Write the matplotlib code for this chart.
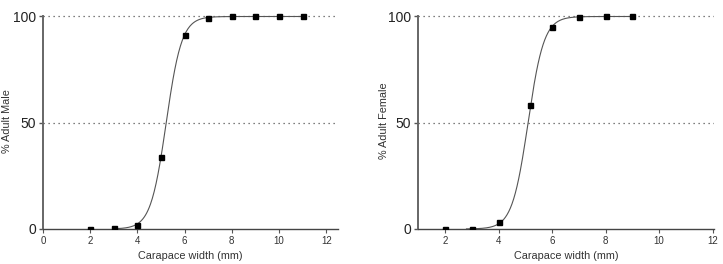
import numpy as np
import matplotlib.pyplot as plt

plt.rcParams['font.family'] = ['Liberation Sans', 'DejaVu Sans']

# observed points
male_width = [2, 3, 4, 5, 6, 7, 8, 9, 10, 11]
male_pct = [0, 0.3, 2, 34, 91.5, 99.5, 100, 100, 100, 100]
female_width = [2, 3, 4, 5.18, 6, 7, 8, 9]
female_pct = [0, 0.2, 3.2, 58.5, 95, 99.6, 100, 100]

# fitted logistic curves (midpoint, slope, x range)
male_fit = (5.22, 3.03, 3.1, 11.0)
female_fit = (5.10, 3.35, 2.8, 9.0)

x_ticks_male = [0, 2, 4, 6, 8, 10, 12]
x_ticks_female = [2, 4, 6, 8, 10, 12]

fig = plt.figure(figsize=(7.23, 2.64), dpi=100)
ax1 = fig.add_axes([0.0595, 0.1326, 0.408, 0.821])
ax2 = fig.add_axes([0.5786, 0.1326, 0.409, 0.821])


def draw(ax, xs, ys, fit, xlim, xticks, ylabel, label_x):
    m, k, x0, x1 = fit
    xx = np.linspace(x0, x1, 300)
    yy = 100 / (1 + np.exp(-k * (xx - m)))
    for lvl in (50, 100):
        ax.axhline(lvl, color='#555555', lw=0.9, ls=(0, (1, 3)), zorder=1)
    ax.plot(xx, yy, color='#555555', lw=0.8, zorder=2)
    ax.plot(xs, ys, 's', color='black', ms=3.6, zorder=3)
    ax.set_xlim(*xlim)
    ax.set_ylim(0, 102)
    ax.set_xticks(xticks)
    ax.set_yticks([0, 50, 100])
    ax.spines['top'].set_visible(False)
    ax.spines['right'].set_visible(False)
    ax.spines['left'].set_bounds(0, 100)
    ax.spines['left'].set_color('#666666')
    ax.spines['left'].set_linewidth(1.4)
    ax.spines['bottom'].set_color('#444444')
    ax.spines['bottom'].set_linewidth(1.0)
    ax.tick_params(axis='y', labelsize=10, length=3, width=1, colors='#555555',
                   labelcolor='#222222', pad=2)
    ax.tick_params(axis='x', labelsize=7, length=3, width=0.8, colors='#555555',
                   labelcolor='#333333', pad=2)
    ax.set_xlabel('Carapace width (mm)', fontsize=7.8, color='#333333', labelpad=4)
    ax.set_ylabel(ylabel, fontsize=7.8, color='#333333')
    ax.yaxis.set_label_coords(label_x, 0.5)


draw(ax1, male_width, male_pct, male_fit, (0, 12.5), x_ticks_male,
     '% Adult Male', -0.106)
draw(ax2, female_width, female_pct, female_fit, (1, 12.05), x_ticks_female,
     '% Adult Female', -0.098)

fig.savefig('out.png', dpi=100)
